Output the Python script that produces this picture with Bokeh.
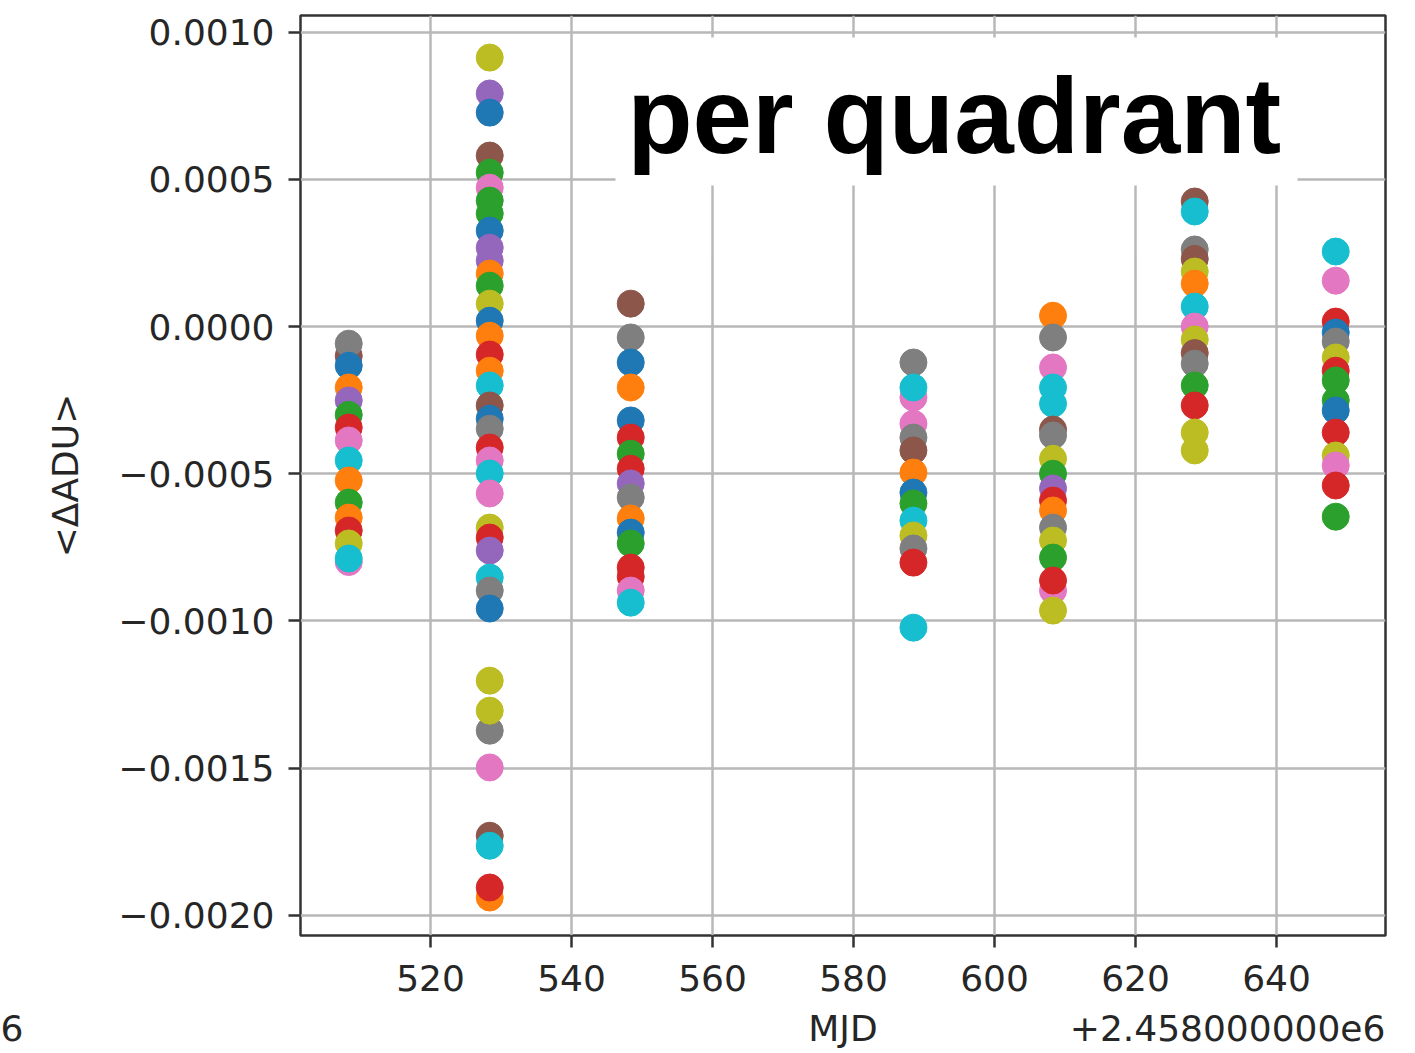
from bokeh.plotting import figure
from bokeh.models import (ColumnDataSource, FixedTicker, Label, BoxAnnotation,
                          Range1d, CustomJSTickFormatter, LinearAxis)
from bokeh.embed import file_html
from bokeh.resources import INLINE

# ---------------- data ----------------
# observation dates, MJD - 2458000
mjd = [508.4, 528.4, 548.4, 588.5, 608.3, 628.4, 648.4]

# <dADU> per quadrant, one list per date, with the colour-cycle index of each quadrant
dadu_508 = [-0.000100, -0.000058, -0.000133, -0.000207, -0.000251, -0.000300, -0.000343,
            -0.000387, -0.000455, -0.000523, -0.000598, -0.000649, -0.000693,
            -0.000737, -0.000800, -0.000788]
quad_508 = ["C5", "C7", "C0", "C1", "C4", "C2", "C3",
            "C6", "C9", "C1", "C2", "C1", "C3",
            "C8", "C6", "C9"]

dadu_528 = [0.000914, 0.000792, 0.000727, 0.000581, 0.000523, 0.000472, 0.000428,
            0.000384, 0.000326, 0.000268, 0.000224, 0.000180, 0.000139, 0.000078,
            0.000020, -0.000031, -0.000095, -0.000150, -0.000200, -0.000268,
            -0.000313, -0.000347, -0.000411, -0.000455, -0.000499, -0.000567,
            -0.000683, -0.000717, -0.000761, -0.000853, -0.000897, -0.000958,
            -0.001203, -0.001373, -0.001305, -0.001498, -0.001730, -0.001764,
            -0.001940, -0.001906]
quad_528 = ["C8", "C4", "C0", "C5", "C2", "C6", "C2",
            "C2", "C0", "C4", "C4", "C1", "C2", "C8",
            "C0", "C1", "C3", "C1", "C9", "C5",
            "C0", "C7", "C3", "C6", "C9", "C6",
            "C8", "C3", "C4", "C9", "C7", "C0",
            "C8", "C7", "C8", "C6", "C5", "C9",
            "C1", "C3"]

dadu_548 = [0.000078, -0.000037, -0.000122, -0.000207, -0.000319, -0.000377, -0.000432,
            -0.000483, -0.000533, -0.000581, -0.000652, -0.000700, -0.000737,
            -0.000819, -0.000850, -0.000897, -0.000938]
quad_548 = ["C5", "C7", "C0", "C1", "C0", "C3", "C2",
            "C3", "C4", "C7", "C1", "C0", "C2",
            "C3", "C3", "C6", "C9"]

dadu_588 = [-0.000122, -0.000241, -0.000207, -0.000330, -0.000377, -0.000421,
            -0.000496, -0.000564, -0.000601, -0.000659, -0.000710, -0.000754,
            -0.000802, -0.001023]
quad_588 = ["C7", "C6", "C9", "C6", "C7", "C5",
            "C1", "C0", "C2", "C9", "C8", "C7",
            "C3", "C9"]

dadu_608 = [0.000037, -0.000037, -0.000139, -0.000207, -0.000262, -0.000350, -0.000370,
            -0.000449, -0.000500, -0.000550, -0.000591, -0.000625, -0.000683,
            -0.000727, -0.000785, -0.000897, -0.000863, -0.000965]
quad_608 = ["C1", "C7", "C6", "C9", "C9", "C5", "C7",
            "C8", "C2", "C4", "C3", "C1", "C7",
            "C8", "C2", "C6", "C3", "C8"]

dadu_628 = [0.000425, 0.000391, 0.000262, 0.000230, 0.000187, 0.000146, 0.000068,
            0.000000, -0.000044, -0.000090, -0.000126, -0.000200, -0.000268,
            -0.000360, -0.000421]
quad_628 = ["C5", "C9", "C7", "C5", "C8", "C1", "C9",
            "C6", "C8", "C5", "C7", "C2", "C3",
            "C8", "C8"]

dadu_648 = [0.000255, 0.000156, 0.000017, -0.000020, -0.000051, -0.000105, -0.000150,
            -0.000183, -0.000251, -0.000285, -0.000360, -0.000438, -0.000472,
            -0.000540, -0.000646]
quad_648 = ["C9", "C6", "C3", "C0", "C7", "C8", "C3",
            "C2", "C2", "C0", "C3", "C8", "C6",
            "C3", "C2"]

x_ticks = [520, 540, 560, 580, 600, 620, 640]
y_ticks = [0.0010, 0.0005, 0.0, -0.0005, -0.0010, -0.0015, -0.0020]

x_label = "MJD"
y_label = "<ΔADU>"
offset_text = "+2.458000000e6"
neighbour_text = "6"          # clipped offset text of the neighbouring panel
panel_text = "per quadrant"

# matplotlib default colour cycle
tab10 = {"C0": "#1f77b4", "C1": "#ff7f0e", "C2": "#2ca02c", "C3": "#d62728",
         "C4": "#9467bd", "C5": "#8c564b", "C6": "#e377c2", "C7": "#7f7f7f",
         "C8": "#bcbd22", "C9": "#17becf"}

# ---------------- build source ----------------
columns = [dadu_508, dadu_528, dadu_548, dadu_588, dadu_608, dadu_628, dadu_648]
quads = [quad_508, quad_528, quad_548, quad_588, quad_608, quad_628, quad_648]
xs, ys, cs = [], [], []
for date, vals, qs in zip(mjd, columns, quads):
    for v, q in zip(vals, qs):
        xs.append(date)
        ys.append(v)
        cs.append(tab10[q])
src = ColumnDataSource(data=dict(x=xs, y=ys, color=cs))

# ---------------- figure ----------------
FONT = "DejaVu Sans"
FS = "36px"
TXT = "#262626"

X0, X1 = 501.56, 655.46
p = figure(width=1412, height=1053, output_backend="svg", toolbar_location=None,
           x_range=Range1d(X0, X1), y_range=Range1d(-0.002069, 0.001057),
           min_border_left=300, min_border_right=27, min_border_top=15,
           min_border_bottom=118)
p.background_fill_color = "white"
p.border_fill_color = "white"
p.outline_line_color = "#333333"
p.outline_line_width = 2.5

p.scatter(x="x", y="y", color="color", size=27, source=src)


def style_axis(ax):
    ax.axis_line_color = None
    ax.major_tick_line_color = "#333333"
    ax.major_tick_line_width = 2.5
    ax.major_tick_out = 12
    ax.major_tick_in = 0
    ax.minor_tick_line_color = None
    ax.major_label_text_font = FONT
    ax.major_label_text_font_size = FS
    ax.major_label_text_color = TXT
    ax.axis_label_text_font = FONT
    ax.axis_label_text_font_size = FS
    ax.axis_label_text_font_style = "normal"
    ax.axis_label_text_color = TXT


style_axis(p.xaxis[0])
style_axis(p.yaxis[0])

p.xaxis.ticker = FixedTicker(ticks=x_ticks)
p.yaxis.ticker = FixedTicker(ticks=y_ticks)
p.xaxis.major_label_standoff = 17
p.yaxis.major_label_standoff = 14
p.yaxis.axis_label = y_label
p.yaxis.axis_label_standoff = 29
p.yaxis.formatter = CustomJSTickFormatter(
    code="return (tick < -1e-12 ? '\u2212' : '') + Math.abs(tick).toFixed(4);")

# second text row under the x axis: axis title (centred), offset text (right
# aligned) and the clipped "6" of the neighbouring panel at the far left
NBSP = "\u00a0"
mjd_label_pos = (X0 + X1) / 2.0
offset_pos = X1 - 22.4
neighbour_pos = X0 + 0.6
row2 = LinearAxis(ticker=FixedTicker(ticks=[neighbour_pos, mjd_label_pos, offset_pos]),
                  formatter=CustomJSTickFormatter(
                      args=dict(names=[neighbour_text + NBSP * 52, x_label, offset_text],
                                pos=[neighbour_pos, mjd_label_pos, offset_pos]),
                      code="""
let best = 0;
for (let i = 0; i < pos.length; i++) {
  if (Math.abs(pos[i] - tick) < Math.abs(pos[best] - tick)) best = i;
}
return names[best];
"""))
style_axis(row2)
row2.major_tick_out = 0
row2.major_tick_line_color = None
row2.major_label_standoff = 14
p.add_layout(row2, "below")

p.xgrid.ticker = FixedTicker(ticks=x_ticks)
p.ygrid.ticker = FixedTicker(ticks=y_ticks)
for g in (p.xgrid[0], p.ygrid[0]):
    g.grid_line_color = "#b8b8b8"
    g.grid_line_width = 2.5

# white patch behind the caption
p.add_layout(BoxAnnotation(left=546.24, right=642.98, top=0.000982, bottom=0.000479,
                           fill_color="white", fill_alpha=1.0, line_color=None,
                           level="overlay"))
p.add_layout(Label(x=547.9, y=0.000717, text=panel_text, text_font="Liberation Sans",
                   text_font_style="bold", text_font_size="107px", text_color="black",
                   text_baseline="middle", text_align="left", level="overlay"))

open("out.html", "w").write(file_html(p, INLINE))
